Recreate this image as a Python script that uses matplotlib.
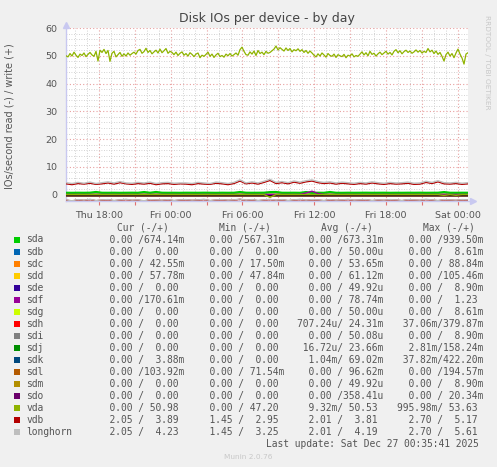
import numpy as np
import matplotlib
matplotlib.use('Agg')
import matplotlib.pyplot as plt
import matplotlib.dates as mdates
from matplotlib.patches import Rectangle
import pandas as pd


#####################################################################
# data
#####################################################################
devices = ['sda', 'sdb', 'sdc', 'sdd', 'sde', 'sdf', 'sdg', 'sdh', 'sdi',
           'sdj', 'sdk', 'sdl', 'sdm', 'sdo', 'vda', 'vdb', 'longhorn']
colors = ['#00CC00', '#0066B3', '#FF8000', '#FFCC00', '#330099', '#990099',
          '#CCFF00', '#FF0000', '#808080', '#008F00', '#00487D', '#B35A00',
          '#B38F00', '#6B006B', '#8FB300', '#B30000', '#BEBEBE']

cur_read = ['0.00'] * 14 + ['0.00', '2.05', '2.05']
cur_write = ['674.14m', '0.00', '42.55m', '57.78m', '0.00', '170.61m', '0.00', '0.00', '0.00',
             '0.00', '3.88m', '103.92m', '0.00', '0.00', '50.98', '3.89', '4.23']
min_read = ['0.00'] * 15 + ['1.45', '1.45']
min_write = ['567.31m', '0.00', '17.50m', '47.84m', '0.00', '0.00', '0.00', '0.00', '0.00',
             '0.00', '0.00', '71.54m', '0.00', '0.00', '47.20', '2.95', '3.25']
avg_read = ['0.00'] * 7 + ['707.24u', '0.00', '16.72u', '1.04m', '0.00', '0.00', '0.00',
                           '9.32m', '2.01', '2.01']
avg_write = ['673.31m', '50.00u', '53.65m', '61.12m', '49.92u', '78.74m', '50.00u', '24.31m',
             '50.08u', '23.66m', '69.02m', '96.62m', '49.92u', '358.41u', '50.53', '3.81', '4.19']
max_read = ['0.00'] * 7 + ['37.06m', '0.00', '2.81m', '37.82m', '0.00', '0.00', '0.00',
                           '995.98m', '2.70', '2.70']
max_write = ['939.50m', '8.61m', '88.84m', '105.46m', '8.90m', '1.23', '8.61m', '379.87m',
             '8.90m', '158.24m', '422.20m', '194.57m', '8.90m', '20.34m', '53.63', '5.17', '5.61']
headers = ['Cur (-/+)', 'Min (-/+)', 'Avg (-/+)', 'Max (-/+)']

t_start = pd.Timestamp('2025-12-25 15:15')
t_end = pd.Timestamp('2025-12-27 00:51')

# traces
vda_write = [50.0, 49.6, 50.8, 49.9, 51.3, 50.2, 49.4, 50.6, 50.1, 51.0, 49.7, 50.5, 51.2, 50.3,
             49.8, 51.6, 48.1,
             52.0, 51.2, 52.3, 50.8, 51.9,
             48.0, 50.9, 51.6, 49.6, 50.4, 51.2, 49.8, 50.7, 49.9, 51.0, 50.2, 50.8,
             51.3, 50.6, 51.9, 52.3, 50.9, 51.5, 52.7, 51.2, 51.9, 50.7, 51.4, 52.0, 51.0, 52.4,
             51.1, 51.8, 52.6, 50.9, 51.6, 51.2,
             50.4, 51.3, 50.1, 50.9, 51.4, 50.2, 50.8, 49.9, 51.1, 50.5, 49.7, 50.6, 51.0, 49.3,
             50.2, 49.8,
             50.5, 51.3, 49.8, 50.6, 49.4, 50.3, 50.9, 49.7, 50.1, 49.5, 50.6, 50.0, 50.8, 49.9,
             50.4, 51.0, 50.2,
             52.2, 53.1, 51.6, 50.4,
             50.2, 51.4, 50.6, 51.7, 50.1, 51.9, 50.8, 51.3, 50.4, 51.6, 50.9, 51.2, 51.8,
             52.4, 53.5, 52.1, 52.9, 52.3, 51.7, 52.8, 51.9, 52.6, 51.4, 52.2, 51.8, 52.5,
             51.6, 52.2, 51.2, 51.9, 50.9, 51.7, 51.0,
             50.2, 49.6, 50.7, 49.9, 51.0, 50.3, 49.5, 50.8, 50.1, 49.8, 50.6, 49.4, 50.4, 50.0,
             49.7, 50.5, 49.3, 50.2, 49.9, 50.7, 49.6, 50.1, 49.8,
             50.6, 51.4, 50.3, 51.1, 50.0, 51.6, 50.5, 50.9, 49.9, 50.7, 51.3, 50.4, 51.0, 51.6,
             50.6, 51.2, 50.3,
             51.6, 52.2, 51.1, 51.8, 50.7, 51.5, 52.0, 51.2, 51.7, 50.9, 51.4, 52.1, 51.3, 51.9,
             51.0, 51.6, 51.2,
             52.6, 51.4, 52.0, 50.8, 51.7, 50.5, 51.2, 49.8, 48.1, 50.4,
             51.3, 49.9, 50.8, 49.3, 51.0, 52.4, 50.6, 49.2, 47.0, 50.6, 51.1]
vdb_write = [3.9, 3.6, 4.0, 3.8, 4.1, 3.7, 3.9, 4.2, 3.8, 4.3, 3.9, 3.7, 4.0, 3.8, 4.1, 3.6,
             3.9, 4.0, 3.7, 3.9, 3.8, 3.6, 4.0, 3.8, 3.7, 4.1, 3.9, 3.6, 4.0, 4.9, 3.9, 4.2,
             3.8, 4.4, 5.1, 4.0, 4.3, 3.9, 4.5, 4.1, 4.6, 4.9, 4.3, 4.0, 4.2, 3.8, 4.1, 3.9,
             3.7, 4.0, 3.8, 4.2, 3.9, 3.7, 4.0, 3.8, 3.9, 4.1, 3.7, 3.8, 4.4, 4.0, 4.6, 3.9,
             3.8, 4.0, 3.7, 3.9]
longhorn_write = [4.3, 4.0, 4.4, 4.1, 4.5, 4.0, 4.3, 4.6, 4.2, 4.7, 4.2, 4.1, 4.4, 4.2, 4.5, 4.0,
                  4.3, 4.4, 4.1, 4.2, 4.2, 4.0, 4.4, 4.2, 4.0, 4.5, 4.3, 4.0, 4.4, 5.3, 4.2, 4.6,
                  4.2, 4.8, 5.5, 4.4, 4.7, 4.3, 4.9, 4.5, 5.0, 5.3, 4.7, 4.4, 4.6, 4.2, 4.5, 4.3,
                  4.1, 4.4, 4.2, 4.6, 4.3, 4.1, 4.4, 4.2, 4.3, 4.5, 4.1, 4.2, 4.8, 4.4, 5.0, 4.3,
                  4.2, 4.4, 4.1, 4.3]
vdb_read = [-2.0, -2.3, -1.9, -2.1, -1.8, -2.2, -2.0, -1.9, -2.2, -2.0, -1.8, -2.1, -2.0, -2.3,
            -1.9, -2.0, -2.1, -1.9, -2.2, -2.0, -1.9, -2.1, -2.0, -1.8, -2.2, -2.0, -1.9, -2.1,
            -2.0, -1.7, -2.1, -1.9, -2.2, -2.0, -1.8, -2.1, -1.9, -2.2, -2.0, -1.8, -2.1, -1.9,
            -2.0, -2.2, -1.9, -2.1, -2.0, -1.8, -2.1, -2.0, -1.9, -2.2, -2.0, -2.1, -1.9, -2.0,
            -2.2, -1.9, -2.0, -2.1, -1.8, -2.0, -2.2, -1.9, -2.0, -2.1, -1.9, -2.0]
longhorn_read = [-1.9, -2.2, -1.8, -2.0, -1.7, -2.1, -1.9, -1.8, -2.1, -1.9, -1.7, -2.0, -1.9,
                 -2.2, -1.8, -1.9, -2.0, -1.8, -2.1, -1.9, -1.8, -2.0, -1.9, -1.7, -2.1, -1.9,
                 -1.8, -2.0, -1.9, -1.6, -2.0, -1.8, -2.1, -1.9, -1.7, -2.0, -1.8, -2.1, -1.9,
                 -1.7, -2.0, -1.8, -1.9, -2.1, -1.8, -2.0, -1.9, -1.7, -2.0, -1.9, -1.8, -2.1,
                 -1.9, -2.0, -1.8, -1.9, -2.1, -1.8, -1.9, -2.0, -1.7, -1.9, -2.1, -1.8, -1.9,
                 -2.0, -1.8, -1.9]
sda_write = [0.66, 0.64, 0.67, 0.65, 0.68, 0.94, 0.66, 0.65, 0.67, 0.64, 0.66, 0.68, 0.65,
             0.92, 0.66, 0.94, 0.67, 0.65, 0.66, 0.64, 0.67, 0.66, 0.65, 0.68, 0.66, 0.64,
             0.67, 0.65, 0.66, 0.93, 0.67, 0.65, 0.66, 0.68, 0.90, 0.94, 0.66, 0.65, 0.67,
             0.64, 0.92, 0.66, 0.67, 0.65, 0.93, 0.66, 0.64, 0.67, 0.65, 0.66, 0.68, 0.65,
             0.66, 0.67, 0.64, 0.66, 0.65, 0.67, 0.66, 0.68, 0.65, 0.66, 0.67, 0.91, 0.66,
             0.65, 0.67, 0.66]
sdf_write = [0.05] * 40 + [0.6, 1.23, 0.4] + [0.05] * 25
vda_read = [0.0] * 34 + [-0.99] + [0.0] * 28 + [-0.3] + [0.0] + [-0.25] + [0.0] * 2


def to_num(s):
    mult = {'m': 1e-3, 'u': 1e-6, 'k': 1e3}
    if s[-1] in mult:
        return float(s[:-1]) * mult[s[-1]]
    return float(s)


def fmt(s):
    if s[-1].isalpha():
        return s[:-1].rjust(6) + s[-1]
    return s.rjust(6) + ' '


W, H = 497, 467
def fx(x):
    return x / W
def fy(y):
    return 1 - y / H


#####################################################################
# plot
#####################################################################
fig = plt.figure(figsize=(W / 100, H / 100), dpi=100, facecolor='#f0f0f0')
ax = fig.add_axes([fx(66), fy(201), fx(468) - fx(66), fy(28) - fy(201)])
ax.set_facecolor('white')

# flat traces for devices with nothing to see
detailed = {'sda', 'sdf', 'vda', 'vdb', 'longhorn'}
for dev, col, ar, aw in zip(devices, colors, avg_read, avg_write):
    if dev in detailed:
        continue
    ax.plot([t_start, t_end], [-to_num(ar), -to_num(ar)], color=col, lw=1.0, zorder=3)
    ax.plot([t_start, t_end], [to_num(aw), to_num(aw)], color=col, lw=1.0, zorder=3)

ax.axhline(0, color='black', lw=1.2, zorder=3)

series = [(sda_write, '#00CC00', 1.6), (sdf_write, '#990099', 1.0),
          (vda_read, '#8FB300', 1.0), (vda_write, '#8FB300', 0.9),
          (vdb_read, '#B30000', 1.0), (vdb_write, '#B30000', 1.0),
          (longhorn_read, '#BEBEBE', 1.0), (longhorn_write, '#BEBEBE', 1.0)]
for vals, col, lw in series:
    t = pd.date_range(t_start, t_end, periods=len(vals))
    ax.plot(t, vals, color=col, lw=lw, zorder=4)

ax.set_xlim(t_start, t_end)
ax.set_ylim(-2.3, 60)

ax.xaxis.set_major_locator(mdates.HourLocator(byhour=range(0, 24, 3)))
ax.xaxis.set_minor_locator(mdates.HourLocator())
ax.xaxis.set_major_formatter(plt.FuncFormatter(
    lambda v, p: mdates.num2date(v).strftime('%a %H:%M') if mdates.num2date(v).hour % 6 == 0 else ''))
ax.yaxis.set_major_locator(plt.MultipleLocator(10))
ax.yaxis.set_minor_locator(plt.MultipleLocator(2))

ax.grid(which='major', color='#e8a0a0', ls=(0, (1, 2)), lw=0.8)
ax.grid(which='minor', color='#c4c4c4', ls=(0, (1, 2)), lw=0.6)
ax.set_axisbelow(True)
ax.tick_params(which='both', length=0, labelsize=6.8, labelcolor='#555555', pad=6)
ax.tick_params(axis='x', which='major', length=3, color='#e07070', width=0.8, pad=4)

for s in ['top', 'right']:
    ax.spines[s].set_visible(False)
for s in ['left', 'bottom']:
    ax.spines[s].set_color('#c8c8f0')
    ax.spines[s].set_linewidth(1.0)
ax.spines['bottom'].set_bounds(mdates.date2num(t_start),
                               mdates.date2num(t_end + pd.Timedelta(minutes=15)))
ax.plot([1.012], [0], marker='>', color='#c8c8f0', ms=5, transform=ax.transAxes, clip_on=False)
ax.plot([0], [1.02], marker='^', color='#c8c8f0', ms=5, transform=ax.transAxes, clip_on=False)

ax.set_title('Disk IOs per device - by day', fontsize=9, color='#444444', pad=4)
fig.text(fx(10), fy(116), 'IOs/second read (-) / write (+)', rotation=90,
         ha='center', va='center', fontsize=7, color='#555555')
fig.text(fx(487), fy(15), 'RRDTOOL / TOBI OETIKER', rotation=-90, ha='center', va='top',
         fontsize=5.3, color='#c8c8c8')

#####################################################################
# legend table
#####################################################################
mono = dict(family='DejaVu Sans Mono', fontsize=6.9, color='#555555', va='center')
col_x = [98.5, 198, 297.3, 396.6]
for i, hd in enumerate(headers):
    fig.text(fx(143 + 102 * i), fy(228), hd, ha='center', **mono)

row0, dy = 239.5, 12.03
for i, dev in enumerate(devices):
    y = row0 + i * dy
    fig.patches.append(Rectangle((fx(14), fy(y + 3)), 6 / W, 6 / H, transform=fig.transFigure,
                                 facecolor=colors[i], edgecolor='none'))
    fig.text(fx(26.5), fy(y), dev, ha='left', **mono)
    cells = [(cur_read[i], cur_write[i]), (min_read[i], min_write[i]),
             (avg_read[i], avg_write[i]), (max_read[i], max_write[i])]
    for x0, (r, w) in zip(col_x, cells):
        fig.text(fx(x0), fy(y), fmt(r) + '/' + fmt(w), ha='left', **mono)

fig.text(fx(479), fy(row0 + 17 * dy), 'Last update: Sat Dec 27 00:35:41 2025', ha='right', **mono)
fig.text(fx(248), fy(457), 'Munin 2.0.76', ha='center', va='center', fontsize=5.3, color='#c8c8c8')

plt.savefig('out.png', dpi=100, facecolor=fig.get_facecolor())
